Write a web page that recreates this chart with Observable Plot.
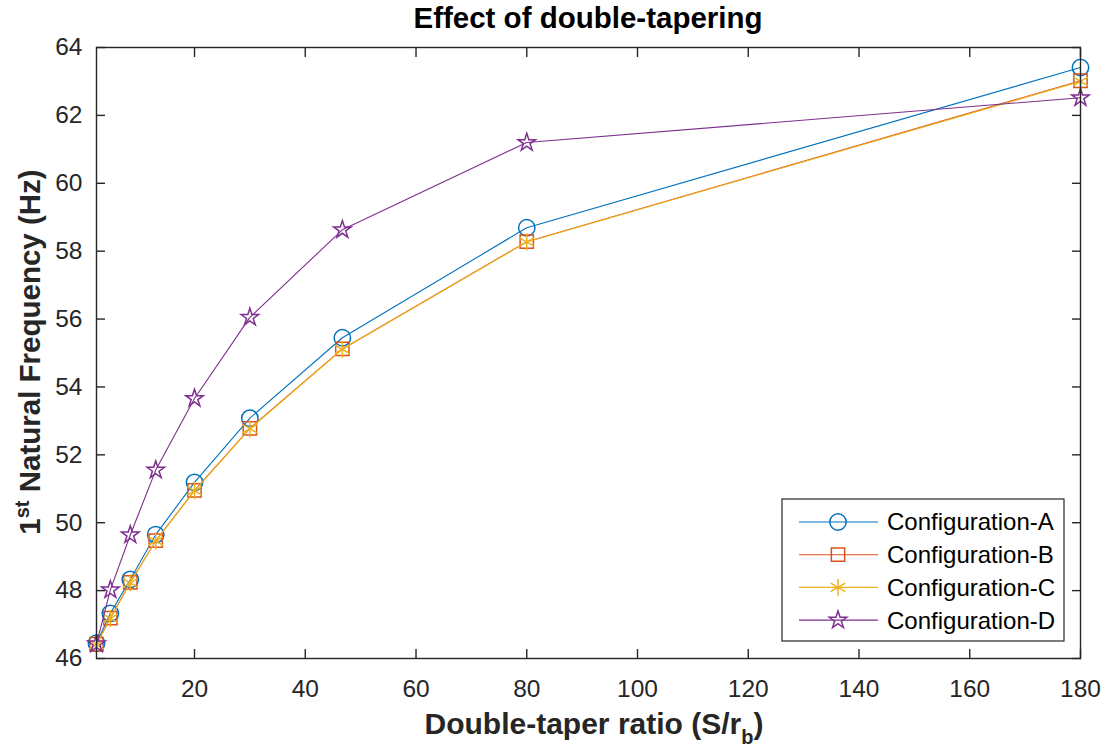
<!DOCTYPE html>
<html>
<head>
<meta charset="utf-8">
<script src="https://cdn.jsdelivr.net/npm/d3@7"></script>
<script src="https://cdn.jsdelivr.net/npm/@observablehq/plot@0.6"></script>
<style>
  html, body { margin: 0; padding: 0; background: #fff; }
  #chart { width: 1107px; height: 750px; }
  svg { font-family: "Liberation Sans", Arial, Helvetica, sans-serif; }
</style>
</head>
<body>
<div id="chart"></div>
<script>
const ratios = [2.3, 4.8, 8.4, 13, 20, 30, 46.7, 80, 180];
const configA = [46.45, 47.33, 48.33, 49.65, 51.19, 53.08, 55.45, 58.69, 63.41];
const configB = [46.42, 47.19, 48.24, 49.47, 50.95, 52.78, 55.12, 58.28, 63.02];
const configC = [46.41, 47.18, 48.23, 49.46, 50.94, 52.77, 55.11, 58.27, 63.00];
const configD = [46.43, 48.02, 49.64, 51.55, 53.66, 56.05, 58.63, 61.20, 62.52];
const seriesNames = ["Configuration-A", "Configuration-B", "Configuration-C", "Configuration-D"];
const seriesColors = ["#0072BD", "#D95319", "#EDB120", "#7E2F8E"];
const seriesSymbols = ["circle", "square", "asterisk", "star"];
const seriesR = [8.2, 7.5, 8, 5.5];
const xTicks = [20, 40, 60, 80, 100, 120, 140, 160, 180];
const yTicks = [46, 48, 50, 52, 54, 56, 58, 60, 62, 64];

const seriesValues = [configA, configB, configC, configD];
const rows = [];
seriesNames.forEach((name, i) => {
  ratios.forEach((x, j) => rows.push({series: name, x, y: seriesValues[i][j]}));
});

const axisColor = "#262626";
const W = 1107, H = 750;
const mL = 96, mR = 27, mT = 47, mB = 92;

const marks = [];
seriesNames.forEach((name, i) => {
  const d = rows.filter(r => r.series === name);
  marks.push(Plot.line(d, {x: "x", y: "y", stroke: seriesColors[i], strokeWidth: 1.1}));
  marks.push(Plot.dot(d, {x: "x", y: "y", symbol: () => seriesSymbols[i], r: seriesR[i],
    stroke: seriesColors[i], fill: "none", strokeWidth: 1.5}));
});

const plot = Plot.plot({
  width: W, height: H,
  marginLeft: mL, marginRight: mR, marginTop: mT, marginBottom: mB,
  style: {fontFamily: '"Liberation Sans", Arial, sans-serif', fontSize: "24px", color: axisColor, background: "#fff"},
  x: {domain: [2.3, 180]},
  y: {domain: [46, 64]},
  symbol: {type: "identity"},
  marks: [
    ...marks,
    Plot.frame({stroke: axisColor, strokeWidth: 1.4}),
    Plot.axisX(xTicks, {anchor: "bottom", tickSize: 0, tickPadding: 21, label: null, fontSize: 24.5, fill: axisColor}),
    Plot.axisX(xTicks, {anchor: "bottom", tickSize: -9, tickFormat: () => "", label: null, stroke: axisColor, strokeWidth: 1.4}),
    Plot.axisX(xTicks, {anchor: "top", tickSize: -9, tickFormat: () => "", label: null, stroke: axisColor, strokeWidth: 1.4}),
    Plot.axisY(yTicks, {anchor: "left", tickSize: 0, tickPadding: 14, label: null, fontSize: 24.5, fill: axisColor}),
    Plot.axisY(yTicks, {anchor: "left", tickSize: -9, tickFormat: () => "", label: null, stroke: axisColor, strokeWidth: 1.4}),
    Plot.axisY(yTicks, {anchor: "right", tickSize: -9, tickFormat: () => "", label: null, stroke: axisColor, strokeWidth: 1.4})
  ]
});

document.getElementById("chart").appendChild(plot);

const svg = d3.select(plot);
const font = '"Liberation Sans", Arial, sans-serif';
// Title
svg.append("text").attr("x", (mL + W - mR) / 2).attr("y", 28)
  .attr("text-anchor", "middle").attr("font-family", font)
  .attr("font-weight", "bold").attr("font-size", 29.5).attr("fill", "#000")
  .text("Effect of double-tapering");
// X label
const xl = svg.append("text").attr("x", (mL + W - mR) / 2 + 6).attr("y", 734)
  .attr("text-anchor", "middle").attr("font-family", font)
  .attr("font-weight", "bold").attr("font-size", 30).attr("fill", axisColor);
xl.append("tspan").text("Double-taper ratio (S/r");
xl.append("tspan").attr("font-size", 20).attr("dy", 10).text("b");
xl.append("tspan").attr("dy", -10).text(")");
// Y label
const yl = svg.append("text").attr("transform", `translate(40, 352) rotate(-90)`)
  .attr("text-anchor", "middle").attr("font-family", font)
  .attr("font-weight", "bold").attr("font-size", 29.5).attr("fill", axisColor);
yl.append("tspan").text("1");
yl.append("tspan").attr("font-size", 20).attr("dy", -11).text("st");
yl.append("tspan").attr("dy", 11).text(" Natural Frequency (Hz)");

// Legend
const lg = svg.append("g");
const lx = 782, ly = 499, lw = 282, lh = 142;
lg.append("rect").attr("x", lx).attr("y", ly).attr("width", lw).attr("height", lh)
  .attr("fill", "#fff").attr("stroke", axisColor).attr("stroke-width", 1.2);
const symMap = {circle: d3.symbolCircle, square: d3.symbolSquare, asterisk: d3.symbolAsterisk, star: d3.symbolStar};
seriesNames.forEach((name, i) => {
  const cy = ly + 23 + i * 32.7;
  lg.append("line").attr("x1", lx + 17).attr("x2", lx + 96).attr("y1", cy).attr("y2", cy)
    .attr("stroke", seriesColors[i]).attr("stroke-width", 1.1);
  const r = seriesR[i];
  lg.append("path").attr("d", d3.symbol(symMap[seriesSymbols[i]], Math.PI * r * r)())
    .attr("transform", `translate(${lx + 56},${cy})`)
    .attr("fill", "none").attr("stroke", seriesColors[i]).attr("stroke-width", 1.5);
  lg.append("text").attr("x", lx + 105).attr("y", cy).attr("dy", "0.35em")
    .attr("text-anchor", "start")
    .attr("font-family", font).attr("font-size", 24).attr("fill", "#000").text(name);
});
</script>
</body>
</html>
